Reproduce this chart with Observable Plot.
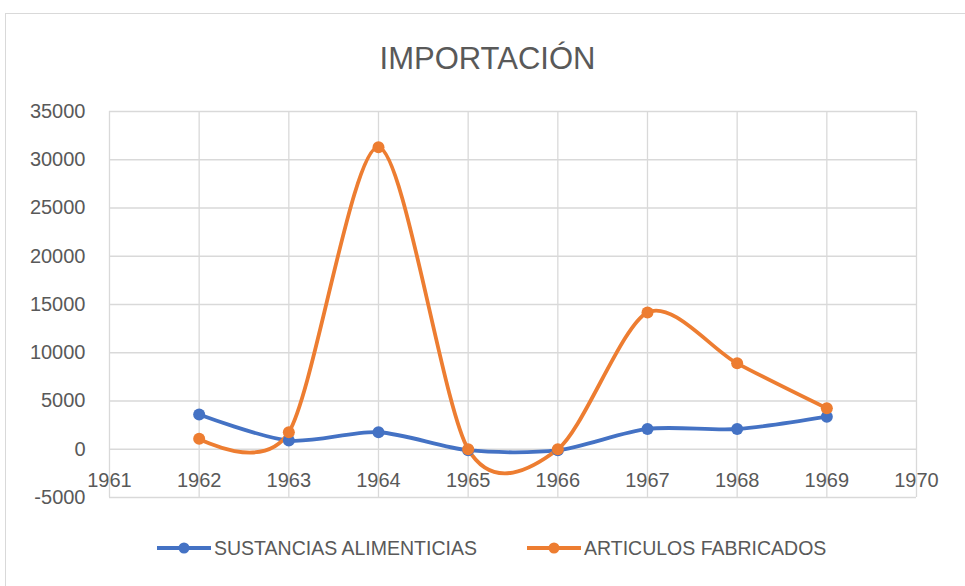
<!DOCTYPE html>
<html>
<head>
<meta charset="utf-8">
<script src="https://cdn.jsdelivr.net/npm/d3@7"></script>
<script src="https://cdn.jsdelivr.net/npm/@observablehq/plot@0.6"></script>
<style>
  html, body { margin: 0; padding: 0; background: #fff; }
  #wrap { position: relative; width: 965px; height: 586px; overflow: hidden; font-family: "Liberation Sans", Arial, sans-serif; color: #595959; }
  #frame { position: absolute; left: 5px; top: 13px; right: -2px; bottom: -2px; border-top: 1.5px solid #d9d9d9; border-left: 1.5px solid #d9d9d9; }
  #title { position: absolute; left: 10px; width: 955px; top: 44px; line-height: 30px; font-size: 31px; text-align: center; color: #595959; }
  #chart { position: absolute; left: 0; top: 90px; }
  #legend { position: absolute; left: 0; top: 535px; width: 965px; height: 26px; }
  .item { position: absolute; top: 0; display: flex; align-items: center; height: 26px; font-size: 19.5px; color: #595959; white-space: nowrap; }
  .item svg { margin-right: 3px; }
</style>
</head>
<body>
<div id="wrap">
  <div id="frame"></div>
  <div id="title">IMPORTACIÓN</div>
  <div id="chart"></div>
  <div id="legend"></div>
</div>
<script>
const years = [1962, 1963, 1964, 1965, 1966, 1967, 1968, 1969];
const seriesNames = ["SUSTANCIAS ALIMENTICIAS", "ARTICULOS FABRICADOS"];
const sustancias = [3600, 900, 1760, -100, -100, 2110, 2100, 3380];
const articulos = [1080, 1760, 31300, 0, 0, 14180, 8900, 4240];
const seriesColors = ["#4472C4", "#ED7D31"];
const xTicks = [1961, 1962, 1963, 1964, 1965, 1966, 1967, 1968, 1969, 1970];
const yTicks = [-5000, 0, 5000, 10000, 15000, 20000, 25000, 30000, 35000];

const rows = [];
[sustancias, articulos].forEach((vals, si) => {
  years.forEach((yr, i) => rows.push({year: yr, value: vals[i], series: seriesNames[si]}));
});

const plot = Plot.plot({
  width: 965,
  height: 419,
  marginLeft: 109,
  marginRight: 49,
  marginTop: 21,
  marginBottom: 12,
  style: {fontFamily: "'Liberation Sans', Arial, sans-serif", fontSize: "20px", color: "#595959", background: "transparent"},
  x: {domain: [1961, 1970], axis: null},
  y: {domain: [-5000, 35000], axis: null},
  color: {domain: seriesNames, range: seriesColors},
  marks: [
    Plot.gridX(xTicks, {stroke: "#d9d9d9", strokeOpacity: 1, strokeWidth: 1.3}),
    Plot.gridY(yTicks, {stroke: "#d9d9d9", strokeOpacity: 1, strokeWidth: 1.3}),
    Plot.axisY(yTicks, {tickSize: 0, tickPadding: 24, label: null, tickFormat: d => String(d), fill: "#595959", fontSize: 20}),
    Plot.text(xTicks, {x: d => d, y: 0, dy: 31, text: d => String(d), fill: "#595959", fontSize: 20}),
    Plot.line(rows, {x: "year", y: "value", z: "series", stroke: "series", strokeWidth: 3.8, curve: "cardinal", tension: 0.15}),
    Plot.dot(rows, {x: "year", y: "value", fill: "series", r: 6})
  ]
});
document.getElementById("chart").appendChild(plot);

// Legend
const legend = document.getElementById("legend");
const legendX = [157, 527];
seriesNames.forEach((name, i) => {
  const item = document.createElement("div");
  item.className = "item";
  item.style.left = legendX[i] + "px";
  item.innerHTML = `<svg width="54" height="14"><line x1="0" y1="7" x2="54" y2="7" stroke="${seriesColors[i]}" stroke-width="3.8"/><circle cx="27" cy="7" r="5.5" fill="${seriesColors[i]}"/></svg><span>${name}</span>`;
  legend.appendChild(item);
});
</script>
</body>
</html>
